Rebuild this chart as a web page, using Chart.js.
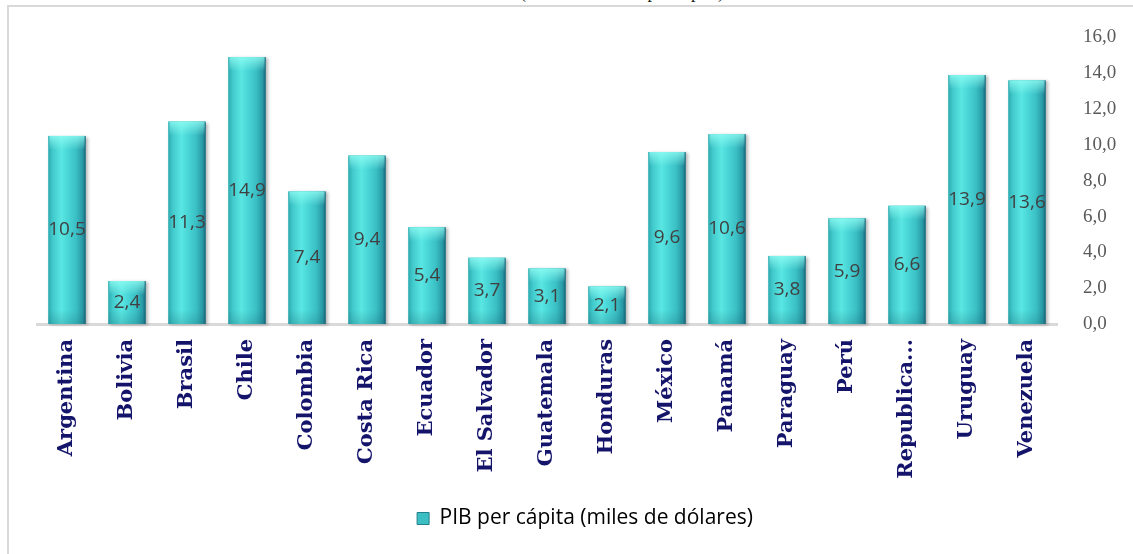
<!DOCTYPE html>
<html lang="es">
<head>
<meta charset="utf-8">
<script src="https://cdn.jsdelivr.net/npm/chart.js@4"></script>
<style>
  html, body { margin: 0; padding: 0; background: #fff; overflow: hidden; }
  #wrap { position: relative; width: 1133px; height: 554px; overflow: hidden; }
  #marco {
    position: absolute; left: 7px; top: 5px; width: 1300px; height: 700px;
    border-left: 2px solid #d9d9d9; border-top: 2px solid #d9d9d9;
  }
  #titulo {
    position: absolute; left: 0; width: 1244px; top: -18px; text-align: center;
    font: 18px/20px "Liberation Serif", serif; color: #1a1a1a;
  }
  #grafico { position: absolute; left: 0; top: 0; }
</style>
</head>
<body>
<div id="wrap">
  <div id="titulo">(miles de dólares per cápita)</div>
  <div id="marco"></div>
  <canvas id="grafico" width="1133" height="554"></canvas>
</div>
<script>
// Datos: PIB per cápita por país (miles de dólares)
const paises = ['Argentina', 'Bolivia', 'Brasil', 'Chile', 'Colombia', 'Costa Rica', 'Ecuador',
  'El Salvador', 'Guatemala', 'Honduras', 'México', 'Panamá', 'Paraguay', 'Perú',
  'Republica...', 'Uruguay', 'Venezuela'];
const pibPerCapita = [10.5, 2.4, 11.3, 14.9, 7.4, 9.4, 5.4, 3.7, 3.1, 2.1, 9.6, 10.6, 3.8, 5.9, 6.6, 13.9, 13.6];
const etiquetaSerie = 'PIB per cápita (miles de dólares)';
const ejeY = { min: 0, max: 16, paso: 2 };

const COLORES = {
  barra: '#44d2d2',
  texto: '#404040',
  ejeTexto: '#595959',
  paisTexto: '#14146b',
  linea: '#d9d9d9'
};

const fmt = (v) => v.toFixed(1).replace('.', ',');

// Relleno tipo cilindro y etiquetas de valor encima de cada barra
const barrasCilindro = {
  id: 'barrasCilindro',
  afterDatasetsDraw(chart) {
    const ctx = chart.ctx;
    const meta = chart.getDatasetMeta(0);
    ctx.save();
    meta.data.forEach((bar, i) => {
      const { x, y, base, width } = bar.getProps(['x', 'y', 'base', 'width'], true);
      const left = x - width / 2;
      const h = base - y;

      ctx.save();
      ctx.shadowColor = 'rgba(0,0,0,0.28)';
      ctx.shadowBlur = 3;
      ctx.shadowOffsetX = 2;
      ctx.shadowOffsetY = 1;
      const g = ctx.createLinearGradient(left, 0, left + width, 0);
      g.addColorStop(0, '#2eaab0');
      g.addColorStop(0.12, '#42cacc');
      g.addColorStop(0.35, '#5ae6e2');
      g.addColorStop(0.5, '#4bd8d8');
      g.addColorStop(0.75, '#3abfc4');
      g.addColorStop(0.92, '#2898a5');
      g.addColorStop(1, '#18627a');
      ctx.fillStyle = g;
      ctx.fillRect(left, y, width, h);
      ctx.restore();

      // brillo de la tapa superior
      const cap = ctx.createLinearGradient(0, y, 0, y + 14);
      cap.addColorStop(0, 'rgba(150,255,245,0.75)');
      cap.addColorStop(1, 'rgba(150,255,245,0)');
      ctx.fillStyle = cap;
      ctx.fillRect(left + 1, y, width - 2, Math.min(14, h));

      // oscurecido leve hacia la base
      const pie = ctx.createLinearGradient(0, base - 14, 0, base);
      pie.addColorStop(0, 'rgba(20,90,100,0)');
      pie.addColorStop(1, 'rgba(20,90,100,0.22)');
      ctx.fillStyle = pie;
      ctx.fillRect(left, Math.max(y, base - 14), width, Math.min(14, h));

      ctx.fillStyle = COLORES.texto;
      ctx.font = '19px "Open Sans", sans-serif';
      ctx.textAlign = 'center';
      ctx.textBaseline = 'middle';
      ctx.fillText(fmt(pibPerCapita[i]), x, (y + base) / 2);
    });
    ctx.restore();
  }
};

new Chart(document.getElementById('grafico'), {
  type: 'bar',
  data: {
    labels: paises,
    datasets: [{
      label: etiquetaSerie,
      data: pibPerCapita,
      backgroundColor: COLORES.barra,
      borderWidth: 0,
      barPercentage: 0.62,
      categoryPercentage: 1
    }]
  },
  options: {
    responsive: false,
    animation: false,
    layout: { padding: { left: 37, top: 36, right: 0, bottom: 15 } },
    plugins: {
      tooltip: { enabled: false },
      legend: {
        position: 'bottom',
        labels: {
          boxWidth: 12,
          boxHeight: 12,
          padding: 10,
          color: COLORES.ejeTexto,
          font: { family: '"Open Sans", sans-serif', size: 21 },
          generateLabels(chart) {
            return [{
              text: etiquetaSerie,
              fillStyle: '#3cbfc3',
              strokeStyle: '#23808a',
              lineWidth: 1,
              datasetIndex: 0
            }];
          }
        }
      }
    },
    scales: {
      x: {
        grid: { display: false, drawTicks: false },
        border: { display: true, color: COLORES.linea, width: 3 },
        ticks: {
          autoSkip: false,
          minRotation: 90,
          maxRotation: 90,
          padding: 15,
          color: COLORES.paisTexto,
          font: { family: '"DejaVu Serif", serif', size: 21, weight: 'bold' }
        },
        afterFit(scale) { scale.height = 174; }
      },
      y: {
        position: 'right',
        min: ejeY.min,
        max: ejeY.max,
        grid: { display: false, drawTicks: false },
        border: { display: false },
        ticks: {
          stepSize: ejeY.paso,
          padding: 26,
          color: COLORES.ejeTexto,
          font: { family: '"Liberation Serif", serif', size: 19 },
          callback: (v) => fmt(v)
        },
        afterFit(scale) { scale.width = 76; }
      }
    }
  },
  plugins: [barrasCilindro]
});
</script>
</body>
</html>
